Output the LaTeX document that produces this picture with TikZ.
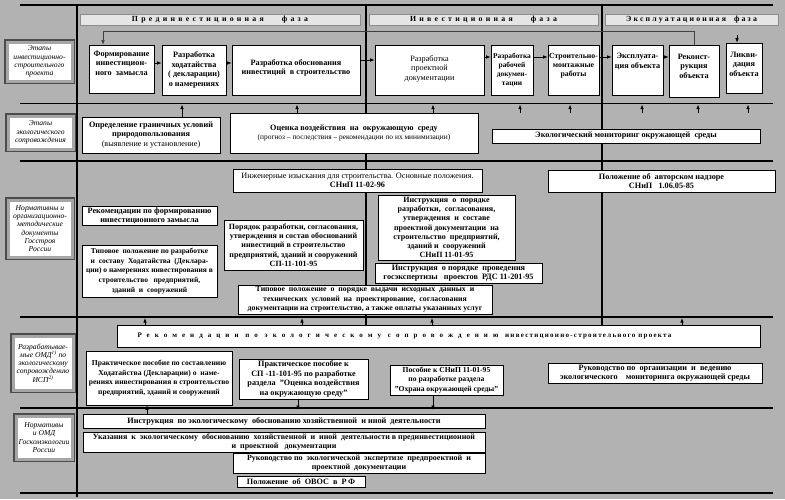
\documentclass[tikz,border=0pt]{standalone}
\usepackage{fontspec}
\setmainfont{Liberation Serif}
\usetikzlibrary{arrows.meta}
\newcommand\mybox[7][]{%
  \pgfmathsetmacro\bw{#5-#3}%
  \pgfmathsetmacro\bh{#6-#4}%
  \pgfmathsetmacro\bcx{(#3+#5)/2}%
  \pgfmathsetmacro\bcy{(#4+#6)/2}%
  \node[bx,minimum width=\bw pt,minimum height=\bh pt,#1] (#2) at (\bcx,\bcy) {#7};%
}
\newcommand\fs[2]{\fontsize{#1}{#2}\selectfont\bfseries}
\begin{document}
\begin{tikzpicture}[x=1pt,y=-1pt,
  bx/.style={draw=black,line width=0.6pt,fill=white,align=center,inner sep=1pt,
    font=\fs{8.2}{9.6}},
  lbl/.style={fill=white,draw=black!35,line width=3pt,preaction={draw=black!70,line width=6pt},
    font=\fontsize{7.6}{8.3}\selectfont\itshape},
  hdr/.style={fill=black!10,draw=black!45,line width=0.6pt,align=center,inner sep=0pt,
    font=\fontsize{7.8}{9}\selectfont\bfseries},
  hline/.style={line width=1.6pt},
  vline/.style={line width=1.2pt},
  arr/.style={-{Latex[length=4.5pt,width=3.5pt]},line width=0.7pt},
  fbline/.style={line width=0.5pt,black!75}]
\useasboundingbox (0,0) rectangle (785,499);
\fill[black!30] (0,0) rectangle (785,499);
% grid lines
\draw[hline] (20,5) -- (773,5);
\draw[hline] (20,103.5) -- (773,103.5);
\draw[hline] (20,161) -- (773,161);
\draw[hline] (20,317) -- (773,317);
\draw[hline] (20,408) -- (773,408);
\draw[hline] (20,493) -- (773,493);
\draw[vline] (77,5) -- (77,497);
\draw[vline] (366,5) -- (366,326);
\draw[vline] (602,5) -- (602,326);
% phase headers
\node[hdr,minimum width=280pt,minimum height=11pt] (h1) at (220,19.5)
  {\addfontfeature{LetterSpace=42}Прединвестиционная\hspace{18pt}фаза};
\node[hdr,minimum width=229pt,minimum height=11pt] (h2) at (483.5,19.5)
  {\addfontfeature{LetterSpace=42}Инвестиционная\hspace{18pt}фаза};
\node[hdr,minimum width=173pt,minimum height=11pt] (h3) at (691.5,19.5)
  {\addfontfeature{LetterSpace=28}Эксплуатационная\hspace{8pt}фаза};
% left labels
\mybox[lbl]{L1}{7}{42}{72}{81}{Этапы\\инвестиционно-\\строительного\\проекта}
\mybox[lbl]{L2}{8}{116}{73}{149}{Этапы\\экологического\\сопровождения}
\mybox[lbl]{L3}{8}{200}{72}{257}{Нормативны и\\организационно-\\методические\\документы\\Госстроя\\России}
\mybox[lbl]{L4}{13}{336}{73}{390}{Разрабатывае-\\мые ОМД\textsuperscript{1)} по\\экологическому\\сопровождению\\ИСП\textsuperscript{2)}}
\mybox[lbl]{L5}{16}{416}{72}{459}{Нормативы\\и ОМД\\Госкомэкологии\\России}
% row 1
\mybox[text depth=12pt]{f1}{89}{45}{154}{93}{Формирование\\инвестицион-\\ного\ \ замысла}
\mybox{f2}{162}{45}{226}{95}{Разработка\\ходатайства\\( декларации)\\о намерениях}
\mybox[text depth=6pt]{f3}{232}{45}{360}{95}{Разработка обоснования\\инвестиций\ \ в строительство}
\mybox[text depth=4pt,font=\fontsize{8.2}{9.8}\selectfont]{f4}{375}{45}{484}{95}{Разработка\\проектной\\документации}
\mybox[font=\fs{7.4}{9.2}]{f5}{491}{45}{533}{95}{Разработка\\рабочей\\докумен-\\тации}
\mybox[text depth=10pt,font=\fs{7.8}{9.4}]{f6}{548}{45}{599}{95}{Строительно-\\монтажные\\работы}
\mybox[text depth=18pt]{f7}{612}{45}{663}{95}{Эксплуата-\\ция объекта}
\mybox[text depth=10pt]{f8}{669}{45}{719}{97}{Реконст-\\рукция\\объекта}
\mybox[text depth=8pt]{f9}{726}{43}{762}{93}{Ликви-\\дация\\объекта}
\draw[arr] (f1.east |- 0,63) -- (f2.west |- 0,63);
\draw[arr] (f2.east |- 0,63) -- (f3.west |- 0,63);
\draw[arr] (f3.east |- 0,60) -- (f4.west |- 0,60);
\draw[arr] (f4.east |- 0,57) -- (f5.west |- 0,57);
\draw[arr] (f5.east |- 0,57) -- (f6.west |- 0,57);
\draw[arr] (f6.east |- 0,57) -- (f7.west |- 0,57);
\draw[arr] (f7.east |- 0,57) -- (f8.west |- 0,57);
\coordinate (fb) at (103,31);
\draw[fbline] (f8.north) |- (fb);
\draw[arr,fbline] (fb) -- (fb |- f1.north);
\coordinate (lk) at (737,35);
\draw[arr] (lk) -- (lk |- f9.north);
% row 2
\mybox{e1}{82}{117}{220}{153}{Определение граничных условий\\природопользования\\{\mdseries(выявление и установление)}}
\mybox{e2}{230}{113}{478}{153}{Оценка воздействия\ \ на\ \ окружающую\ \ среду\\{\mdseries\fontsize{7.4}{9}\selectfont(прогноз – последствия – рекомендации по их минимизации)}}
\mybox{e3}{492}{129}{760}{143}{Экологический мониторинг окружающей\ \ среды}
\draw[arr] (e1.north -| 182,0) -- (182,104.5);
\foreach \xx in {297,433} \draw[arr] (e2.north -| \xx,0) -- (\xx,104.5);
\foreach \xx in {520,570,642,698,748} {
  \coordinate (u\xx) at (\xx,113);
  \draw[arr] (u\xx) -- (\xx,104.5);
}
% row 3
\mybox{n1}{233}{169}{482}{192}{{\mdseries Инженерные изыскания для строительства. Основные положения.}\\СНиП 11-02-96}
\mybox{n2}{548}{170}{775}{192}{Положение об\ \ авторском надзоре\\СНиП\ \ \ 1.06.05-85}
\mybox{n3}{82}{207}{217}{225}{Рекомендации по формированию\\инвестиционного замысла}
\mybox[font=\fs{8}{9.4}]{n4}{224}{220}{363}{270}{Порядок разработки, согласования,\\утверждения и состав обоснований\\инвестиций в строительство\\предприятий, зданий и сооружений\\СП-11-101-95}
\mybox[font=\fs{8}{9.1}]{n5}{378}{195}{515}{260}{Инструкция\ \ о\ \ порядке\\разработки,\ \ согласования,\\утверждения\ \ и\ \ составе\\проектной документации\ \ на\\строительство\ \ предприятий,\\зданий и\ \ сооружений\\СНиП 11-01-95}
\mybox{n6}{375}{263}{542}{283}{Инструкция\ \ о порядке\ \ проведения\\госэкспертизы\ \ \ проектов\ \ РДС 11-201-95}
\mybox[font=\fs{7.5}{9.6}]{n7}{82}{245}{217}{297}{Типовое\ \ положение по разработке\\и\ \ составу\ \ Ходатайства\ \ (Деклара-\\ции) о намерениях инвестирования в\\строительство\ \ \ предприятий,\\зданий\ \ и\ \ сооружений}
\mybox[font=\fs{7.8}{9.4}]{n8}{238}{285}{492}{314}{Типовое\ \ положение\ \ о\ \ порядке\ \ выдачи\ \ исходных\ \ данных\ \ и\\технических\ \ условий\ \ на\ \ проектирование,\ \ согласования\\документации на строительство, а также оплаты указанных услуг}
% row 4
\mybox[font=\fs{7}{8}]{r1}{117}{325}{760}{347}{{\addfontfeature{LetterSpace=72}Рекомендации по экологическому сопровождению }{\addfontfeature{LetterSpace=18}инвестиционно-строительного проекта}\hspace*{68pt}}
\foreach \xx in {145,302,432,682} \draw[arr] (r1.north -| \xx,0) -- (\xx,318);
\mybox[font=\fs{7.6}{9.4}]{r2}{86}{351}{232}{405}{Практическое пособие по составлению\\Ходатайства (Декларации) о\ \ наме-\\рениях инвестирования в строительство\\предприятий, зданий и сооружений}
\mybox{r3}{239}{359}{368}{399}{Практическое пособие к\\СП -11-101-95 по разработке\\раздела\ \ "Оценка воздействия\\на окружающую среду"}
\mybox[font=\fs{7.6}{9.4}]{r4}{390}{365}{503}{395}{Пособие к СНиП 11-01-95\\по разработке раздела\\"Охрана окружающей среды"}
\mybox{r5}{548}{363}{762}{383}{Руководство по\ \ организации\ \ и\ \ ведению\\экологического\ \ \ \ мониторинга окружающей среды}
% row 5
\mybox{s1}{83}{414}{485}{428}{Инструкция\ \ по экологическому\ \ обоснованию хозяйственной\ \ и иной\ \ деятельности}
\mybox[font=\fs{8}{9.2}]{s2}{83}{432}{485}{452}{Указания\ \ к\ \ экологическому\ \ обоснованию\ \ хозяйственной\ \ и\ \ иной\ \ деятельности\ в\ прединвестиционной\\и\ \ проектной\ \ \ документации}
\mybox[font=\fs{8}{9.2}]{s3}{233}{453}{485}{473}{Руководство по\ \ экологической\ \ экспертизе\ \ предпроектной\ \ и\\проектной\ \ документации}
\mybox{s4}{237}{476}{365}{487}{Положение\ \ об\ \ ОВОС\ \ в\ \ Р\,Ф}
\draw[arr] (s1.north -| 147,0) -- (r2.south -| 147,0);
\coordinate (d1) at (298,410);
\coordinate (d2) at (433,410);
\draw[arr] (r3.south -| d1) -- (d1);
\draw[arr] (r4.south -| d2) -- (d2);
\end{tikzpicture}
\end{document}
